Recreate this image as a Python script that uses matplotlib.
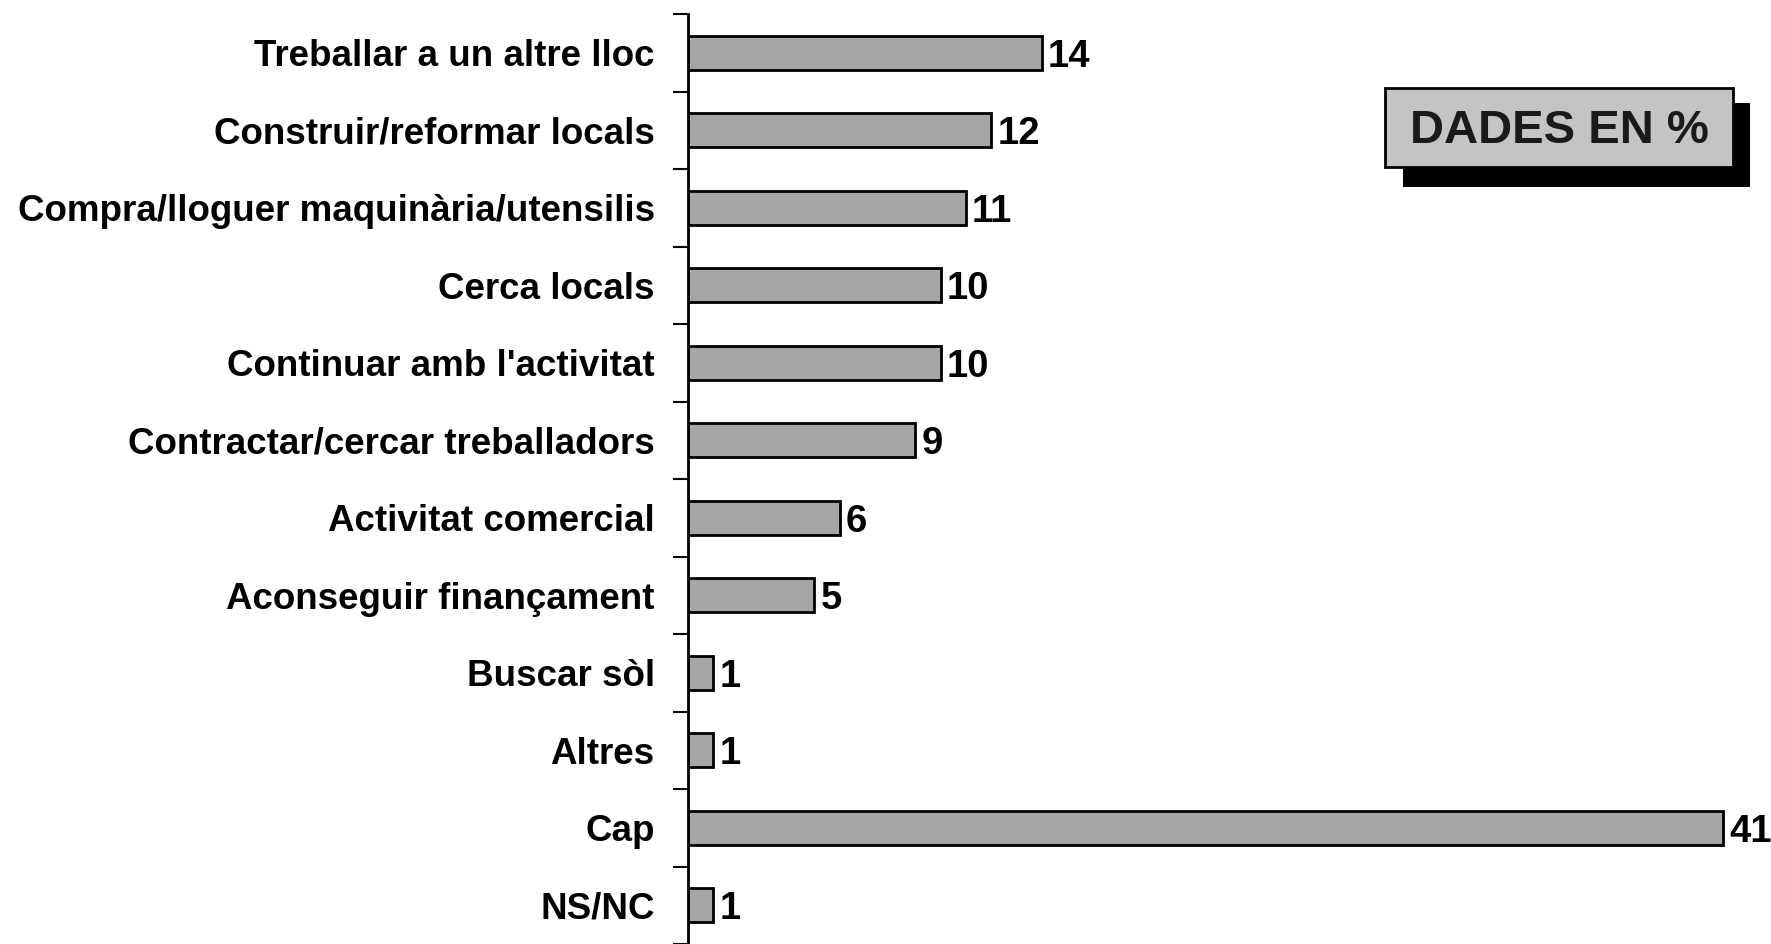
import matplotlib
matplotlib.use('Agg')
import matplotlib.pyplot as plt
from matplotlib.patches import Rectangle
import numpy as np

# categories top to bottom and their values (%)
categories = ['Treballar a un altre lloc', 'Construir/reformar locals',
              'Compra/lloguer maquinària/utensilis', 'Cerca locals',
              "Continuar amb l'activitat", 'Contractar/cercar treballadors',
              'Activitat comercial', 'Aconseguir finançament', 'Buscar sòl',
              'Altres', 'Cap', 'NS/NC']
values = [14, 12, 11, 10, 10, 9, 6, 5, 1, 1, 41, 1]
box_text = 'DADES EN %'

plt.rcParams['font.family'] = ['Liberation Sans', 'DejaVu Sans']
plt.rcParams['font.weight'] = 'bold'

W, H = 1771, 944
fig = plt.figure(figsize=(W / 100, H / 100), dpi=100)
ax = fig.add_axes([688 / W, 0, (W - 688) / W, 930 / H])

y = np.arange(len(categories))
ax.barh(y, values, height=0.44, color='#a6a6a6', edgecolor='black', linewidth=2)
for yi, v in zip(y, values):
    ax.text(v + 0.25, yi, str(v), va='center_baseline', ha='left', fontsize=27.5,
            fontweight='bold')

ax.set_ylim(len(categories) - 0.5, -0.5)
ax.set_xlim(0, (W - 688) / 25.25)

# labels at bar centres, tick marks between bars
ax.set_yticks(np.arange(len(categories) + 1) - 0.5)
ax.set_yticklabels([])
ax.set_yticks(y, minor=True)
ax.set_yticklabels(categories, minor=True)
ax.tick_params(axis='y', which='minor', length=0, pad=24, labelsize=26.5)
ax.tick_params(axis='y', which='major', length=11, width=1.5, direction='out')
ax.set_xticks([])
for s in ['top', 'right', 'bottom']:
    ax.spines[s].set_visible(False)
ax.spines['left'].set_linewidth(2)

# "DADES EN %" label box with drop shadow
tr = fig.transFigure
fig.patches.append(Rectangle((1403 / W, 1 - 187 / H), 347 / W, 84 / H,
                             transform=tr, facecolor='black', edgecolor='none'))
fig.patches.append(Rectangle((1385 / W, 1 - 167 / H), 348 / W, 79 / H,
                             transform=tr, facecolor='#c4c4c4', edgecolor='black',
                             linewidth=2))
fig.text(1559 / W, 1 - 131 / H, box_text, ha='center', va='center',
         fontsize=34, fontweight='bold', color='#1a1a1a')

fig.savefig('out.png', dpi=100)
